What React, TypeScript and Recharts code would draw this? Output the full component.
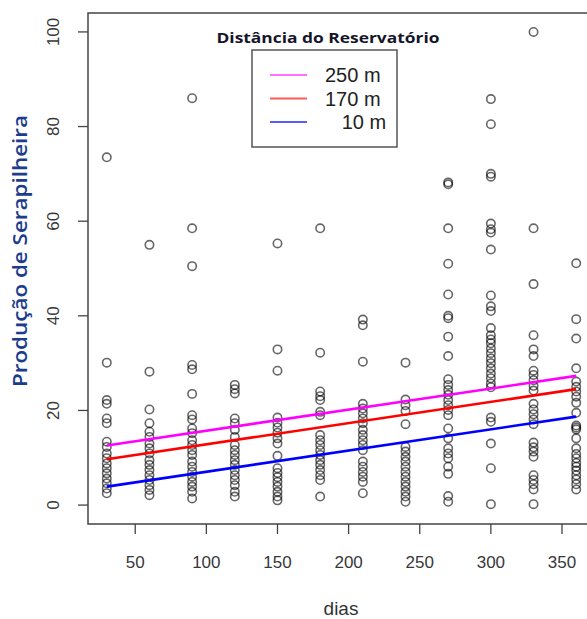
import React from "react";
import { ScatterChart, Scatter, XAxis, YAxis, ReferenceArea } from "recharts";

// ---- data ----
const days = [30, 60, 90, 120, 150, 180, 210, 240, 270, 300, 330, 360];

const prod30 = [73.5, 30.1, 22.2, 21.4, 18.3, 17.3, 13.4, 12.3, 10.9, 9.9, 8.8, 7.8, 6.7, 5.6, 4.6, 3.5, 2.5];
const prod60 = [55, 28.2, 20.2, 17.3, 15.5, 14.4, 13.0, 12.0, 10.9, 9.5, 8.5, 7.4, 6.3, 5.3, 4.2, 3.2, 2.1];
const prod90 = [86, 58.5, 50.5, 29.6, 28.7, 23.5, 19.0, 18.1, 16.2, 15.2, 13.7, 12.7, 11.6, 10.6, 9.2, 8.1, 7.0, 6.0, 4.9, 3.9, 2.8, 1.4];
const prod120 = [25.4, 24.5, 23.6, 18.3, 17.3, 15.9, 14.4, 12.7, 11.6, 10.6, 9.5, 8.5, 7.4, 6.3, 5.3, 4.2, 2.8, 1.8];
const prod150 = [55.3, 32.9, 28.4, 18.5, 17.4, 16.4, 15.3, 14.1, 13.0, 10.4, 7.8, 6.8, 5.9, 4.9, 3.9, 2.8, 1.8, 1.0];
const prod180 = [58.5, 32.2, 24.0, 23.0, 22.2, 19.7, 19.0, 14.8, 13.7, 12.7, 11.6, 10.6, 9.5, 8.5, 7.4, 6.3, 5.3, 1.8];
const prod210 = [39.2, 38.0, 30.3, 21.4, 20.4, 19.4, 18.3, 17.3, 15.9, 14.8, 13.7, 12.7, 11.6, 9.2, 8.1, 7.0, 6.0, 4.9, 2.5];
const prod240 = [30.1, 22.3, 21.1, 19.9, 17.1, 12.3, 11.3, 10.2, 9.2, 8.1, 7.0, 6.0, 4.9, 3.9, 2.8, 1.8, 0.7];
const prod270 = [68.2, 67.8, 58.5, 51.0, 44.5, 40.0, 39.5, 35.6, 31.5, 26.6, 25.4, 24.3, 23.3, 22.2, 21.1, 20.1, 19.0, 16.2, 14.1, 12.0, 10.9, 9.9, 8.1, 6.6, 1.9, 0.7];
const prod300 = [85.8, 80.5, 70.0, 69.4, 59.5, 58.3, 57.6, 54.0, 44.3, 42.0, 41.0, 37.4, 35.9, 35.0, 34.2, 33.1, 32.1, 31.0, 30.0, 28.9, 27.8, 26.8, 25.7, 24.9, 18.5, 17.6, 13.0, 7.8, 0.2];
const prod330 = [100, 58.5, 46.7, 35.9, 32.9, 31.5, 28.4, 27.5, 26.4, 25.2, 24.2, 21.4, 20.2, 19.2, 18.1, 17.1, 13.2, 12.2, 11.3, 10.2, 6.3, 5.3, 4.4, 3.3, 0.2];
const prod360 = [51.1, 39.3, 35.2, 28.9, 26.1, 25.0, 24.0, 22.9, 21.6, 19.5, 16.8, 16.4, 16.0, 14.1, 12.0, 10.8, 9.9, 8.9, 8.1, 7.3, 6.3, 5.4, 4.4, 3.3];

const producao = [prod30, prod60, prod90, prod120, prod150, prod180, prod210, prod240, prod270, prod300, prod330, prod360];

// regression lines (fitted values at first and last day)
const lineDays = [30, 360];
const fit250 = [12.6, 27.3];
const fit170 = [9.7, 24.5];
const fit10 = [3.9, 18.7];

const legendTitle = "Distância do Reservatório";
const legendLabels = ["250 m", "170 m", "   10 m"];
const lineColors = ["#ff00ff", "#ff0000", "#0000ff"];
const legendColors = ["#ff70ff", "#ff5a5a", "#5a5aff"];

const xTicks = [50, 100, 150, 200, 250, 300, 350];
const yTicks = [0, 20, 40, 60, 80, 100];
const xDomain = [16.8, 373.2];
const yDomain = [-4, 104];

// ---- derived tables ----
const points = days.flatMap((d, i) => producao[i].map((v) => ({ x: d, y: v })));
const fits = [fit250, fit170, fit10].map((f) => lineDays.map((d, i) => ({ x: d, y: f[i] })));

const FONT = "'Liberation Sans', Arial, sans-serif";

const Circle = (p: any) => (
  <circle cx={p.cx} cy={p.cy} r={4.2} fill="none" stroke="#000" strokeOpacity={0.6} strokeWidth={1.6} />
);
const NoShape = () => <g />;

const YTick = (p: any) => {
  const { x, y, payload } = p;
  return (
    <text
      x={x}
      y={y}
      transform={`rotate(-90 ${x} ${y})`}
      textAnchor="middle"
      fontSize={17}
      fill="#383838"
      fontFamily={FONT}
    >
      {payload.value}
    </text>
  );
};

export default function App() {
  return (
    <div style={{ position: "absolute", left: 0, top: 0, width: 587, height: 619, overflow: "hidden", background: "#fff" }}>
      <ScatterChart width={620} height={619} margin={{ top: 13, right: 25, bottom: 0, left: 0 }}>
        <XAxis
          type="number"
          dataKey="x"
          domain={xDomain}
          ticks={xTicks}
          allowDataOverflow
          axisLine={false}
          tickSize={10}
          tickMargin={22}
          height={95}
          tickLine={{ stroke: "#444", strokeWidth: 1.3 }}
          tick={{ fontSize: 17, fill: "#383838", fontFamily: FONT }}
        />
        <YAxis
          type="number"
          dataKey="y"
          domain={yDomain}
          ticks={yTicks}
          allowDataOverflow
          axisLine={false}
          width={88}
          tickSize={10}
          tickMargin={19}
          tickLine={{ stroke: "#444", strokeWidth: 1.3 }}
          tick={<YTick />}
        />
        <ReferenceArea
          x1={xDomain[0]}
          x2={xDomain[1]}
          y1={yDomain[0]}
          y2={yDomain[1]}
          fill="none"
          stroke="#444"
          strokeWidth={1.5}
          fillOpacity={0}
          ifOverflow="visible"
        />
        <Scatter data={points} shape={<Circle />} isAnimationActive={false} />
        {fits.map((f, i) => (
          <Scatter
            key={i}
            data={f}
            shape={<NoShape />}
            line={{ stroke: lineColors[i], strokeWidth: 2.6 }}
            lineType="joint"
            isAnimationActive={false}
          />
        ))}

        {/* legend */}
        <text x={328} y={43} textAnchor="middle" fontFamily="'Open Sans', sans-serif" fontWeight={700} fontSize={15} fill="#15152a" textLength={223} lengthAdjust="spacingAndGlyphs">
          {legendTitle}
        </text>
        <rect x={252} y={50} width={145} height={97} fill="#fff" stroke="#555" strokeWidth={1.5} />
        {legendLabels.map((lab, i) => (
          <g key={lab}>
            <line x1={270} x2={307} y1={75 + i * 23.5} y2={75 + i * 23.5} stroke={legendColors[i]} strokeWidth={2} />
            <text x={325} y={82 + i * 23.5} fontSize={20} fontFamily={FONT} fill="#222" style={{ whiteSpace: "pre" }}>
              {lab}
            </text>
          </g>
        ))}

        {/* axis titles */}
        <text
          x={27}
          y={251}
          transform="rotate(-90 27 251)"
          textAnchor="middle"
          fontFamily="'Open Sans', sans-serif"
          fontWeight={600}
          fontSize={20}
          fill="#1c3d8c"
          textLength={272}
          lengthAdjust="spacingAndGlyphs"
        >
          Produção de Serapilheira
        </text>
        <text x={341} y={615} textAnchor="middle" fontFamily={FONT} fontSize={19} fill="#333">
          dias
        </text>
      </ScatterChart>
    </div>
  );
}
